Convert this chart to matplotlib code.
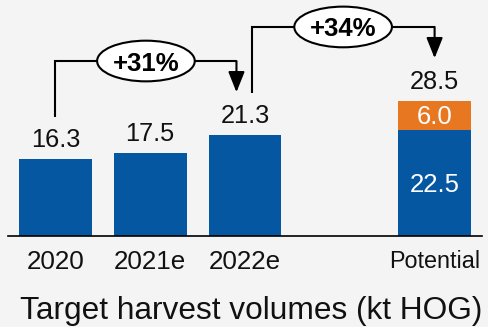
import matplotlib
matplotlib.use("Agg")
import matplotlib.pyplot as plt
from matplotlib.patches import Ellipse

plt.rcParams['font.family'] = ['Liberation Sans', 'DejaVu Sans']

# Volúmenes de cosecha objetivo (kt HOG)
categorias = ['2020', '2021e', '2022e', 'Potential']
base = [16.3, 17.5, 21.3, 22.5]
adicional = [0.0, 0.0, 0.0, 6.0]

pos = [0, 1, 2, 4]
azul = '#0457a0'
naranja = '#e87722'
fondo = '#f4f4f4'

total = [b + a for b, a in zip(base, adicional)]

fig = plt.figure(figsize=(4.88, 3.27), dpi=100, facecolor=fondo)
ax = fig.add_axes([8 / 488, 91 / 327, 474 / 488, 236 / 327])
ax.set_facecolor(fondo)

ax.bar(pos, base, width=0.77, color=azul, zorder=2)
ax.bar(pos, adicional, bottom=base, width=0.77, color=naranja, zorder=2)

# Etiquetas de valor
for x, b, a, t in zip(pos, base, adicional, total):
    ax.text(x, t + 2.55, f'{t:.1f}', ha='center', va='baseline', fontsize=18.3, color='#111111')
    if a > 0:
        ax.text(x, b / 2 - 1.85, f'{b:.1f}', ha='center', va='baseline', fontsize=18.5, color='white')
        ax.text(x, b + a / 2 - 1.85, f'{a:.1f}', ha='center', va='baseline', fontsize=18.5, color='white')


def corchete(x0, x1, i0, i1):
    # línea con flecha entre dos barras y el crecimiento en una elipse
    v0, v1 = total[i0], total[i1]
    y0 = v0 + 8.9
    y_tip = v1 + 9.1
    y_top = max(v0, v1) + 15.7
    ax.plot([x0, x0, x1], [y0, y_top, y_top], color='black', lw=1.5, zorder=3,
            solid_capstyle='butt', solid_joinstyle='miter')
    ax.annotate('', xy=(x1, y_tip), xytext=(x1, y_top),
                arrowprops=dict(arrowstyle='-|>,head_length=0.5,head_width=0.2',
                                mutation_scale=25, lw=1.5, color='black',
                                shrinkA=0, shrinkB=0), zorder=3)
    xm = (x0 + x1) / 2
    ax.add_patch(Ellipse((xm, y_top), 1.03, 8.6, facecolor='white',
                         edgecolor='black', lw=1.5, zorder=4))
    pct = (v1 / v0 - 1) * 100
    ax.text(xm, y_top, f'+{pct:.0f}%', ha='center', va='center_baseline',
            fontsize=18.5, fontweight='bold', zorder=5)


corchete(pos[0], pos[2] - 0.09, 0, 2)
corchete(pos[2] + 0.07, pos[3], 2, 3)

ax.set_xlim(-0.5, 4.5)
ax.set_ylim(0, 49.9)
for lado in ['top', 'right', 'left']:
    ax.spines[lado].set_visible(False)
ax.spines['bottom'].set_color('black')
ax.spines['bottom'].set_linewidth(1.2)
ax.set_yticks([])
ax.set_xticks(pos, categorias)
ax.tick_params(axis='x', length=0, pad=10, labelsize=18.7, labelcolor='#111111')
ax.get_xticklabels()[3].set_fontsize(16.8)

fig.text(250.7 / 488, 8 / 327, 'Target harvest volumes (kt HOG)', ha='center',
         va='baseline', fontsize=22.8, color='#111111')

fig.savefig('out.png', dpi=100, facecolor=fondo)
